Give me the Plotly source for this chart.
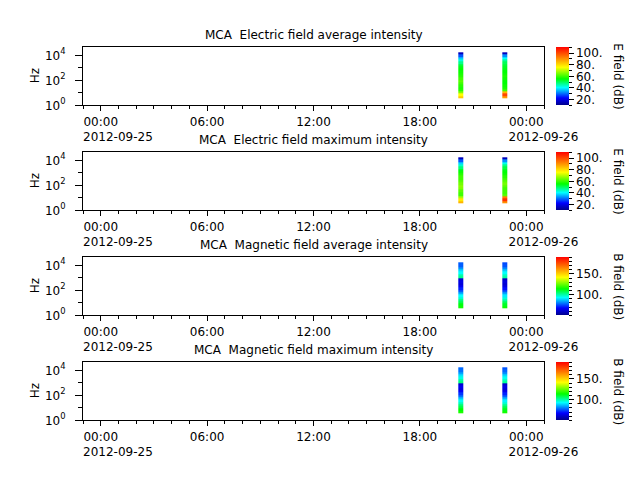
import plotly.graph_objects as go

# ---------------- data ----------------
freq_edges = [3.63, 5.55, 8.47, 12.9, 19.8, 30.2, 46.1, 70.5, 108, 164, 251,
              384, 586, 895, 1368, 2089, 3192, 4875, 7447, 11376, 17378]
time_edges = ["2012-09-25 20:10", "2012-09-25 20:28",
              "2012-09-25 22:38", "2012-09-25 22:56"]

# dB values per frequency bin (bottom -> top) for the two bursts
e_avg_burst1 = [82, 75, 65, 58, 57, 58, 60, 62, 60, 58, 57, 56, 55, 54, 52, 47, 42, 36, 28, 15]
e_avg_burst2 = [88, 100, 85, 60, 57, 56, 55, 55, 56, 57, 56, 55, 54, 53, 52, 50, 46, 40, 32, 15]
e_max_burst1 = [85, 78, 68, 60, 60, 62, 65, 66, 64, 62, 60, 60, 58, 56, 54, 48, 43, 37, 28, 15]
e_max_burst2 = [90, 103, 92, 62, 60, 60, 60, 62, 64, 62, 60, 58, 56, 55, 54, 51, 47, 41, 32, 15]
b_avg_burst1 = [115, 112, 107, 103, 96, 92, 84, 76, 70, 65, 61, 63, 60, 102, 99, 92, 88, 81, 76, 76]
b_avg_burst2 = [114, 110, 106, 100, 95, 90, 83, 75, 68, 63, 60, 62, 58, 100, 97, 92, 87, 80, 75, 74]
b_max_burst1 = [116, 113, 108, 104, 98, 93, 86, 78, 72, 66, 62, 64, 60, 103, 100, 94, 89, 83, 78, 77]
b_max_burst2 = [115, 111, 107, 102, 96, 91, 84, 76, 70, 64, 61, 63, 59, 101, 98, 93, 88, 81, 77, 75]

titles = ["MCA\u00a0 Electric field average intensity",
          "MCA\u00a0 Electric field maximum intensity",
          "MCA\u00a0 Magnetic field average intensity",
          "MCA\u00a0 Magnetic field maximum intensity"]
cbar_titles = ["E field (dB)", "E field (dB)", "B field (dB)", "B field (dB)"]
e_cbar_ticks = [20, 40, 60, 80, 100]
b_cbar_ticks = [100, 150]
x_tick_times = ["2012-09-25 00:00", "2012-09-25 06:00", "2012-09-25 12:00",
                "2012-09-25 18:00", "2012-09-26 00:00"]
x_tick_hours = ["00:00", "06:00", "12:00", "18:00", "00:00"]
x_tick_dates = ["2012-09-25", "", "", "", "2012-09-26"]
y_tick_vals = [1, 100, 10000]
y_tick_labels = ["10<sup>0</sup>", "10<sup>2</sup>", "10<sup>4</sup>"]

# ---------------- style ----------------
W, H = 640, 480
FONT = "DejaVu Sans"
NB = "\u00a0"
colorscale = [[0.0, "#00008c"], [0.12, "#0000ff"], [0.3, "#00ffff"],
              [0.45, "#00ff00"], [0.65, "#ffff00"], [0.82, "#ff8000"],
              [1.0, "#ff0000"]]
x_left, x_right = 83, 544
panel_tops = [47.3, 152.3, 257.3, 362.3]
panel_h = 58

# hour label with the date line left-aligned under it
x_tick_text = [h + ("<br>" + NB * 9 + d if d else "") for h, d in zip(x_tick_hours, x_tick_dates)]

panels = [
    (e_avg_burst1, e_avg_burst2, 10, 110, e_cbar_ticks),
    (e_max_burst1, e_max_burst2, 10, 110, e_cbar_ticks),
    (b_avg_burst1, b_avg_burst2, 50, 190, b_cbar_ticks),
    (b_max_burst1, b_max_burst2, 50, 190, b_cbar_ticks),
]

fig = go.Figure()
annotations = []
layout = {}
for i, (b1, b2, zmin, zmax, cticks) in enumerate(panels):
    n = i + 1
    top = panel_tops[i]
    bot = top + panel_h
    y0, y1 = 1 - bot / H, 1 - top / H
    ymid = (y0 + y1) / 2
    z = [[b1[k], None, b2[k]] for k in range(len(b1))]
    cb_common = dict(
        x=555.7 / W, xanchor="left", y=ymid, yanchor="middle",
        len=panel_h, lenmode="pixels", thickness=12.6, thicknessmode="pixels",
        outlinewidth=0, xpad=0, ypad=0, ticks="outside", tickcolor="black",
        tickmode="array", tickfont=dict(family=FONT, size=12, color="black"),
    )
    # minor-tick colorbar (drawn first, below)
    fig.add_trace(go.Scatter(
        x=[None], y=[None], mode="markers", xaxis=f"x{n}", yaxis=f"y{n}",
        hoverinfo="skip",
        marker=dict(color=[zmin], cmin=zmin, cmax=zmax, colorscale=colorscale,
                    showscale=True,
                    colorbar=dict(cb_common, ticklen=3, showticklabels=False,
                                  tickvals=list(range(zmin, zmax + 1, 10)))),
    ))
    fig.add_trace(go.Heatmap(
        x=time_edges, y=freq_edges, z=z, zmin=zmin, zmax=zmax,
        colorscale=colorscale, zsmooth=False, hoverongaps=False,
        xaxis=f"x{n}", yaxis=f"y{n}",
        colorbar=dict(cb_common, ticklen=5, tickvals=cticks,
                      ticktext=[f"{v}." for v in cticks]),
    ))
    xa = dict(
        type="date", domain=[x_left / W, x_right / W], anchor=f"y{n}",
        range=["2012-09-24 23:00", "2012-09-26 01:00"],
        tickmode="array", tickvals=x_tick_times, ticktext=x_tick_text,
        ticks="outside", ticklen=5, tickcolor="black",
        minor=dict(dtick=3600000, tick0="2012-09-25", ticks="outside", ticklen=3,
                   tickcolor="black"),
        showline=True, linecolor="black", linewidth=1, mirror=True,
        showgrid=False, zeroline=False,
        tickfont=dict(family=FONT, size=12, color="black"),
    )
    ya = dict(
        type="log", domain=[y0, y1], anchor=f"x{n}", range=[0, 4.64],
        tickmode="array", tickvals=y_tick_vals, ticktext=y_tick_labels,
        ticks="outside", ticklen=7, tickcolor="black", ticklabelstandoff=7,
        minor=dict(tickvals=[10, 1000], ticks="outside", ticklen=4, tickcolor="black"),
        showline=True, linecolor="black", linewidth=1, mirror=True,
        showgrid=False, zeroline=False,
        tickfont=dict(family=FONT, size=12, color="black"),
    )
    layout[f"xaxis{n}" if n > 1 else "xaxis"] = xa
    layout[f"yaxis{n}" if n > 1 else "yaxis"] = ya
    # title
    annotations.append(dict(
        text=titles[i], xref="paper", yref="paper",
        x=(x_left + x_right) / 2 / W, y=y1, xanchor="center", yanchor="middle",
        yshift=12, showarrow=False, font=dict(family=FONT, size=12, color="black")))
    # y label
    annotations.append(dict(
        text="Hz", xref="paper", yref="paper", x=35 / W, y=ymid,
        xanchor="center", yanchor="middle", textangle=-90, showarrow=False,
        font=dict(family=FONT, size=12, color="black")))
    # colorbar title
    annotations.append(dict(
        text=cbar_titles[i], xref="paper", yref="paper", x=618 / W, y=ymid,
        xanchor="center", yanchor="middle", textangle=90, showarrow=False,
        font=dict(family=FONT, size=12, color="black")))

fig.update_layout(
    width=W, height=H,
    margin=dict(l=0, r=0, t=0, b=0, autoexpand=False),
    paper_bgcolor="white", plot_bgcolor="white",
    showlegend=False, annotations=annotations,
    font=dict(family=FONT, size=12, color="black"),
    **layout,
)
fig.write_html("out.html")
